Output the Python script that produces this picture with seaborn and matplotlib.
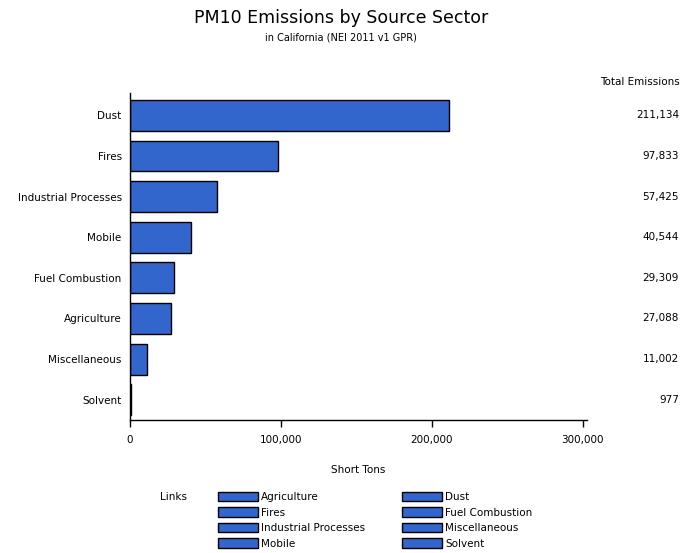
import matplotlib
matplotlib.use("Agg")
import matplotlib.pyplot as plt
import matplotlib.patches as mpatches
import matplotlib.transforms as mtransforms
import seaborn as sns
import pandas as pd

# data
sectors = ["Dust", "Fires", "Industrial Processes", "Mobile",
           "Fuel Combustion", "Agriculture", "Miscellaneous", "Solvent"]
emissions = [211134, 97833, 57425, 40544, 29309, 27088, 11002, 977]
legend_order = ["Agriculture", "Fires", "Industrial Processes", "Mobile",
                "Dust", "Fuel Combustion", "Miscellaneous", "Solvent"]
x_ticks = [0, 100000, 200000, 300000]

bar_color = "#3366CC"
df = pd.DataFrame({"sector": sectors, "tons": emissions})

sns.set_style("white")
plt.rcParams["font.family"] = ["DejaVu Sans"]
plt.rcParams["text.color"] = "black"
plt.rcParams["xtick.color"] = "black"
plt.rcParams["ytick.color"] = "black"
plt.rcParams["axes.labelcolor"] = "black"

fig = plt.figure(figsize=(6.82, 5.53), dpi=100)
ax = fig.add_axes([0.1906, 0.2405, 0.861 - 0.1906, 0.8318 - 0.2405])

sns.barplot(data=df, x="tons", y="sector", orient="h", color=bar_color,
            edgecolor="black", linewidth=1, width=0.76, saturation=1, ax=ax)

ax.set_xlim(0, 303000)
ax.set_ylim(7.5, -0.55)
ax.set_xticks(x_ticks)
ax.set_xticklabels([f"{v:,}" for v in x_ticks], fontsize=7.5)
ax.tick_params(axis="y", length=0, labelsize=7.5, pad=6)
ax.tick_params(axis="x", length=5, width=1, pad=6, direction="out", bottom=True)
ax.set_ylabel("")
ax.set_xlabel("Short Tons", fontsize=7.5, labelpad=14)
for s in ["top", "right"]:
    ax.spines[s].set_visible(False)
for s in ["left", "bottom"]:
    ax.spines[s].set_color("black")
    ax.spines[s].set_linewidth(1)

# totals column on the right
fig.text(680 / 682, 1 - 82 / 553, "Total Emissions", ha="right", va="center", fontsize=7.5)
trans = mtransforms.blended_transform_factory(fig.transFigure, ax.transData)
for i, v in enumerate(emissions):
    ax.text(679 / 682, i, f"{v:,}", transform=trans,
            ha="right", va="center", fontsize=7.5)

# titles
fig.text(0.5, 1 - 18 / 553, "PM10 Emissions by Source Sector", ha="center",
         va="center", fontsize=12.5)
fig.text(0.5, 1 - 38 / 553, "in California (NEI 2011 v1 GPR)", ha="center",
         va="center", fontsize=7)

# legend
fig.text(160 / 682, 1 - 497 / 553, "Links", ha="left", va="center", fontsize=7.5)
handles = [mpatches.Patch(facecolor=bar_color, edgecolor="black", label=s)
           for s in legend_order]
fig.legend(handles=handles, ncol=2, loc="upper left",
           bbox_to_anchor=(218 / 682, 1 - 492 / 553), frameon=False,
           fontsize=7.5, handlelength=3.8, handleheight=1.0, handletextpad=0.3,
           columnspacing=3.6, labelspacing=0.5, borderaxespad=0, borderpad=0)

fig.savefig("out.png", dpi=100)
